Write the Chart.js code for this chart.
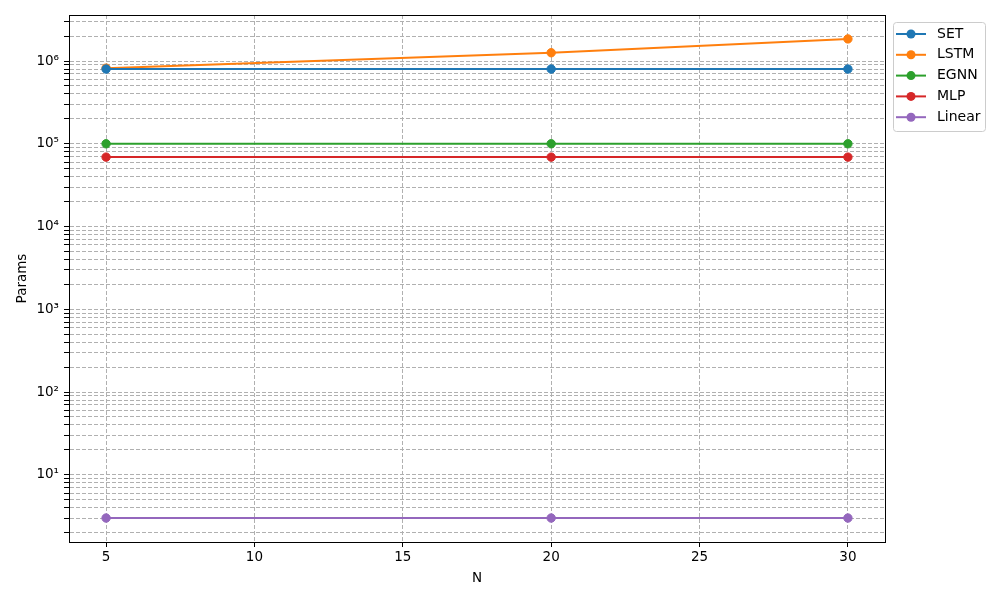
<!DOCTYPE html>
<html>
<head>
<meta charset="utf-8">
<script src="https://cdn.jsdelivr.net/npm/chart.js@4/dist/chart.umd.min.js"></script>
<style>
  html, body { margin: 0; padding: 0; background: #fff; }
  #wrap { width: 1000px; height: 600px; }
</style>
</head>
<body>
<div id="wrap"><canvas id="chart" width="1000" height="600"></canvas></div>
<script>
// data
const nValues = [5, 20, 30];
const seriesNames = ["SET", "LSTM", "EGNN", "MLP", "Linear"];
const seriesColors = ["#1f77b4", "#ff7f0e", "#2ca02c", "#d62728", "#9467bd"];
const setParams = [800000, 800000, 800000];
const lstmParams = [820000, 1260000, 1850000];
const egnnParams = [100000, 100000, 100000];
const mlpParams = [69000, 69000, 69000];
const linearParams = [3, 3, 3];
const xTicks = [5, 10, 15, 20, 25, 30];

const allSeries = [setParams, lstmParams, egnnParams, mlpParams, linearParams];
const FONT = "'DejaVu Sans', sans-serif";
const sup = { "0": "⁰", "1": "¹", "2": "²", "3": "³", "4": "⁴", "5": "⁵", "6": "⁶", "7": "⁷", "8": "⁸", "9": "⁹" };

const datasets = allSeries.map((vals, i) => ({
    label: seriesNames[i],
    data: vals.map((v, j) => ({ x: nValues[j], y: v })),
    borderColor: seriesColors[i],
    backgroundColor: seriesColors[i],
    borderWidth: 2,
    pointRadius: 4.2,
    pointHoverRadius: 4.2,
    pointBorderWidth: 1,
    tension: 0,
}));

// frame on all four sides + matplotlib-style legend
const framePlugin = {
    id: "frame",
    afterDraw(chart) {
        const { ctx, chartArea: a } = chart;
        ctx.save();
        ctx.strokeStyle = "#000";
        ctx.lineWidth = 1;
        ctx.strokeRect(a.left + 0.5, a.top + 0.5, a.right - a.left, a.bottom - a.top);

        // legend box
        const lx = 893, ly = 22, lw = 92, lh = 109;
        ctx.fillStyle = "rgba(255,255,255,0.8)";
        ctx.strokeStyle = "#cccccc";
        ctx.beginPath();
        ctx.roundRect(lx + 0.5, ly + 0.5, lw, lh, 3);
        ctx.fill();
        ctx.stroke();
        ctx.font = "14px " + FONT;
        ctx.textBaseline = "middle";
        ctx.textAlign = "left";
        seriesNames.forEach((name, i) => {
            const y = 34 + i * 20.8;
            ctx.strokeStyle = seriesColors[i];
            ctx.lineWidth = 2;
            ctx.beginPath();
            ctx.moveTo(896, y);
            ctx.lineTo(926, y);
            ctx.stroke();
            ctx.fillStyle = seriesColors[i];
            ctx.beginPath();
            ctx.arc(911, y, 4.5, 0, Math.PI * 2);
            ctx.fill();
            ctx.fillStyle = "#000";
            ctx.fillText(name, 937, y);
        });
        ctx.restore();
    }
};

const config = {
    type: "line",
    data: { datasets: datasets },
    options: {
        responsive: false,
        animation: false,
        events: [],
        layout: { padding: { left: 0, top: 15, right: 115, bottom: 0 } },
        plugins: {
            legend: { display: false },
            tooltip: { enabled: false },
        },
        scales: {
            x: {
                type: "linear",
                min: 3.75,
                max: 31.25,
                afterFit(scale) { scale.height = 58; },
                afterBuildTicks(scale) {
                    scale.ticks = xTicks.map(v => ({ value: v }));
                },
                ticks: {
                    color: "#000",
                    font: { family: FONT, size: 13.5 },
                    padding: 2,
                    maxRotation: 0,
                    callback: v => String(v),
                },
                grid: {
                    color: "#b0b0b0",
                    lineWidth: 1,
                    tickColor: "#000",
                    tickLength: 5,
                    tickBorderDash: [],
                },
                border: { display: true, color: "#000", dash: [4, 2] },
                title: {
                    display: true,
                    text: "N",
                    color: "#000",
                    font: { family: FONT, size: 13.5 },
                    padding: { top: 0, bottom: 13 },
                },
            },
            y: {
                type: "logarithmic",
                min: 1.54,
                max: 3.6e6,
                afterFit(scale) { scale.width = 69; },
                afterBuildTicks(scale) {
                    const t = [];
                    for (let e = 0; e <= 6; e++) {
                        for (let m = 1; m <= 9; m++) {
                            const v = m * Math.pow(10, e);
                            if (v >= scale.min && v <= scale.max) t.push({ value: v, major: m === 1 });
                        }
                    }
                    scale.ticks = t;
                },
                ticks: {
                    color: "#000",
                    font: { family: FONT, size: 13.5 },
                    padding: 5,
                    autoSkip: false,
                    callback: function (v) {
                        const e = Math.log10(v);
                        if (Math.abs(e - Math.round(e)) < 1e-9) {
                            return "10" + String(Math.round(e)).split("").map(c => sup[c]).join("");
                        }
                        return "";
                    },
                },
                grid: {
                    color: "#b0b0b0",
                    lineWidth: 1,
                    tickColor: "#000",
                    tickLength: 5,
                    tickBorderDash: [],
                },
                border: { display: true, color: "#000", dash: [4, 2] },
                title: {
                    display: true,
                    text: "Params",
                    color: "#000",
                    font: { family: FONT, size: 13.5 },
                    padding: { top: 14, bottom: 0 },
                },
            },
        },
    },
    plugins: [framePlugin],
};

const chart = new Chart(document.getElementById("chart"), config);
</script>
</body>
</html>
